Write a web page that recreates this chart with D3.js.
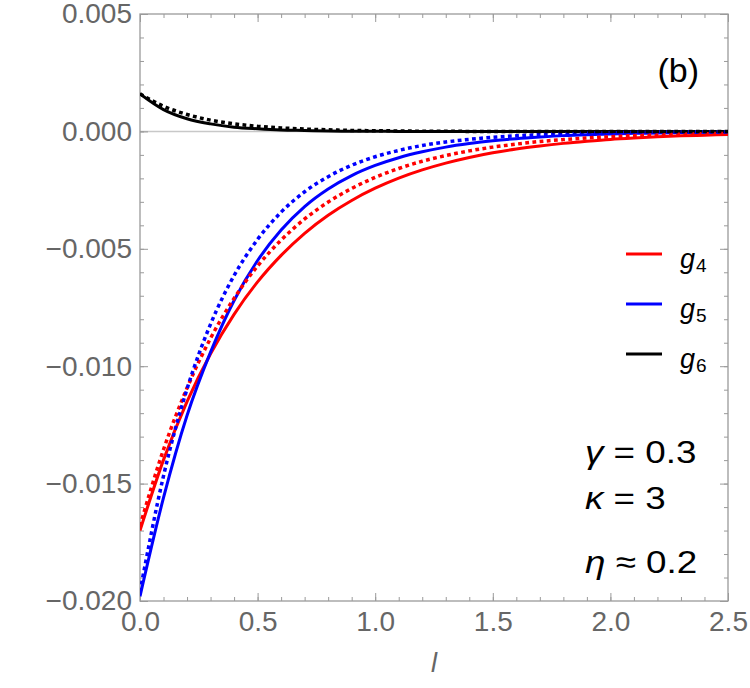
<!DOCTYPE html>
<html lang="en">
<head>
  <meta charset="UTF-8">
  <title>g4 g5 g6 vs l</title>
  <script src="https://d3js.org/d3.v7.min.js"></script>
  <style>
    body { margin: 0; background: #fff; }
    text { font-family: "Liberation Sans", Arial, sans-serif; }
  </style>
</head>
<body>
<svg></svg>
<script>
  const width = 750, height = 688
  const margin = {top: 14, right: 22, bottom: 87, left: 140}

  // sample points along l
  const ls = [0, 0.1, 0.2, 0.3, 0.4, 0.5, 0.6, 0.7, 0.8, 0.9, 1.0, 1.1, 1.2,
              1.3, 1.4, 1.5, 1.6, 1.7, 1.8, 1.9, 2.0, 2.1, 2.2, 2.3, 2.4, 2.5]

  const g4Solid = [-0.0170, -0.01399, -0.01151, -0.00947, -0.00779, -0.00641, -0.00528, -0.00434,
                   -0.00357, -0.00294, -0.00242, -0.00199, -0.00164, -0.00135, -0.00111, -0.00091,
                   -0.00075, -0.00062, -0.00051, -0.00042, -0.00034, -0.00028, -0.00023, -0.00019,
                   -0.00016, -0.00013]
  const g4Dotted = [-0.0168, -0.01355, -0.01093, -0.00881, -0.00711, -0.00573, -0.00463, -0.00373,
                    -0.00301, -0.00243, -0.00196, -0.00158, -0.00127, -0.00103, -0.00083, -0.00067,
                    -0.00054, -0.00043, -0.00035, -0.00028, -0.00023, -0.00018, -0.00015, -0.00012,
                    -0.00010, -0.00008]
  const g5Solid = [-0.0198, -0.0156, -0.0121, -0.0094, -0.0072, -0.0055, -0.0042, -0.0032,
                   -0.00245, -0.00188, -0.00145, -0.00112, -0.00087, -0.00067, -0.00052, -0.00040,
                   -0.00031, -0.00024, -0.00018, -0.00014, -0.00011, -0.00008, -0.00007, -0.00005,
                   -0.00004, -0.00003]
  const g5Dotted = [-0.0196, -0.01467, -0.01097, -0.00821, -0.00614, -0.00460, -0.00344, -0.00257,
                    -0.00193, -0.00144, -0.00108, -0.00081, -0.00060, -0.00045, -0.00034, -0.00025,
                    -0.00019, -0.00014, -0.00011, -0.00008, -0.00006, -0.00004, -0.00003, -0.00002,
                    -0.00002, -0.00001]
  const g6Solid = [0.00160, 0.00093, 0.00054, 0.00032, 0.00018, 0.00011, 0.00006, 0.00004,
                   0.00002, 0.00001, 0.00001, 0, 0, 0, 0, 0, 0, 0, 0, 0, 0, 0, 0, 0, 0, 0]
  const g6Dotted = [0.00160, 0.00107, 0.00072, 0.00048, 0.00032, 0.00022, 0.00015, 0.00010,
                    0.00007, 0.00004, 0.00003, 0.00002, 0.00001, 0.00001, 0, 0, 0, 0, 0, 0,
                    0, 0, 0, 0, 0, 0]

  const xTicks = [0, 0.5, 1.0, 1.5, 2.0, 2.5]
  const yTicks = [0.005, 0.000, -0.005, -0.010, -0.015, -0.020]
  const xMinor = d3.range(0, 2.5001, 0.1)
  const yMinor = d3.range(-0.020, 0.00501, 0.001)

  const legendNames = ['4', '5', '6']
  const colors = ['#ff0000', '#0000ff', '#000000']
  const notes = [['γ', ' = 0.3'], ['κ', ' = 3'], ['η', ' ≈ 0.2']]

  const x = d3.scaleLinear()
      .domain([0, 2.5])
      .range([margin.left, width - margin.right])

  const y = d3.scaleLinear()
      .domain([-0.020, 0.005])
      .range([height - margin.bottom, margin.top])

  const svg = d3.select('svg')
      .attr('width', width)
      .attr('height', height)
      .attr('viewBox', [0, 0, width, height])

  const frameColor = '#9a9a9a'
  const labelColor = '#666'

  const pBottom = height - margin.bottom, pTop = margin.top
  const pLeft = margin.left, pRight = width - margin.right

  svg.append('clipPath').attr('id', 'clip')
    .append('rect')
      .attr('x', pLeft).attr('y', pTop)
      .attr('width', pRight - pLeft).attr('height', pBottom - pTop)

  // zero line
  svg.append('line')
      .attr('x1', x(0)).attr('x2', x(2.5))
      .attr('y1', y(0)).attr('y2', y(0))
      .attr('stroke', '#c8c8c8')
      .attr('stroke-width', 1.5)

  // ticks on all four sides, pointing inward
  function ticks(axis, size, values, fmt, pad) {
    return g => g.call(axis.tickValues(values).tickSize(size).tickSizeOuter(0).tickPadding(pad || 4)
        .tickFormat(fmt || ''))
      .call(g => g.select('.domain').remove())
      .call(g => g.selectAll('.tick line').attr('stroke', frameColor).attr('stroke-width', 1))
      .call(g => g.selectAll('.tick text')
          .attr('fill', labelColor)
          .style('font-size', '28px')
          .style('font-family', '"Liberation Sans", Arial, sans-serif'))
  }

  svg.append('g').attr('transform', `translate(0,${pBottom})`)
      .call(ticks(d3.axisBottom(x), -4, xMinor))
  svg.append('g').attr('transform', `translate(0,${pBottom})`)
      .call(ticks(d3.axisBottom(x), -8, xTicks, d3.format('.1f'), 10))
  svg.append('g').attr('transform', `translate(0,${pTop})`)
      .call(ticks(d3.axisTop(x), -4, xMinor))
  svg.append('g').attr('transform', `translate(0,${pTop})`)
      .call(ticks(d3.axisTop(x), -8, xTicks))

  svg.append('g').attr('transform', `translate(${pLeft},0)`)
      .call(ticks(d3.axisLeft(y), -4, yMinor))
  svg.append('g').attr('transform', `translate(${pLeft},0)`)
      .call(ticks(d3.axisLeft(y), -8, yTicks, d3.format('.3f'), 8))
  svg.append('g').attr('transform', `translate(${pRight},0)`)
      .call(ticks(d3.axisRight(y), -4, yMinor))
  svg.append('g').attr('transform', `translate(${pRight},0)`)
      .call(ticks(d3.axisRight(y), -8, yTicks))

  svg.append('rect')
      .attr('x', pLeft).attr('y', pTop)
      .attr('width', pRight - pLeft).attr('height', pBottom - pTop)
      .attr('fill', 'none')
      .attr('stroke', frameColor)
      .attr('stroke-width', 1.3)

  // curves
  const line = d3.line()
      .x((d, i) => x(ls[i]))
      .y(d => y(d))
      .curve(d3.curveMonotoneX)

  const plot = svg.append('g').attr('clip-path', 'url(#clip)')

  const solids = [g4Solid, g5Solid, g6Solid]
  const dotted = [g4Dotted, g5Dotted, g6Dotted]

  solids.forEach((s, k) => {
    plot.append('path')
        .attr('d', line(s))
        .attr('fill', 'none')
        .attr('stroke', colors[k])
        .attr('stroke-width', 3)
  })
  dotted.forEach((s, k) => {
    plot.append('path')
        .attr('d', line(s))
        .attr('fill', 'none')
        .attr('stroke', colors[k])
        .attr('stroke-width', 3.5)
        .attr('stroke-dasharray', '3.8,3.4')
  })

  // axis title
  svg.append('text')
      .attr('x', (pLeft + pRight) / 2)
      .attr('y', 672)
      .attr('text-anchor', 'middle')
      .attr('fill', labelColor)
      .style('font-size', '27px')
      .style('font-style', 'italic')
      .text('l')

  // panel tag
  svg.append('text')
      .attr('x', 699)
      .attr('y', 82)
      .attr('text-anchor', 'end')
      .attr('fill', '#000')
      .style('font-size', '34px')
      .text('(b)')

  // legend
  const legend = svg.append('g')
  legendNames.forEach((n, k) => {
    const ly = 254 + k * 50
    legend.append('line')
        .attr('x1', 626).attr('x2', 662)
        .attr('y1', ly).attr('y2', ly)
        .attr('stroke', colors[k])
        .attr('stroke-width', 3)
    const t = legend.append('text')
        .attr('x', 680)
        .attr('y', ly + 14)
        .attr('fill', '#000')
        .style('font-size', '27px')
    t.append('tspan').style('font-style', 'italic').text('g')
    t.append('tspan').attr('dy', 4).attr('dx', 1).style('font-size', '19px').text(n)
  })

  // parameter block
  const noteY = [463, 509, 573]
  notes.forEach((n, k) => {
    const t = svg.append('text')
        .attr('transform', `translate(585,${noteY[k]}) scale(1.15,1)`)
        .attr('fill', '#000')
        .style('font-size', '32px')
    t.append('tspan').style('font-style', 'italic').text(n[0])
    t.append('tspan').text(n[1])
  })
</script>
</body>
</html>
